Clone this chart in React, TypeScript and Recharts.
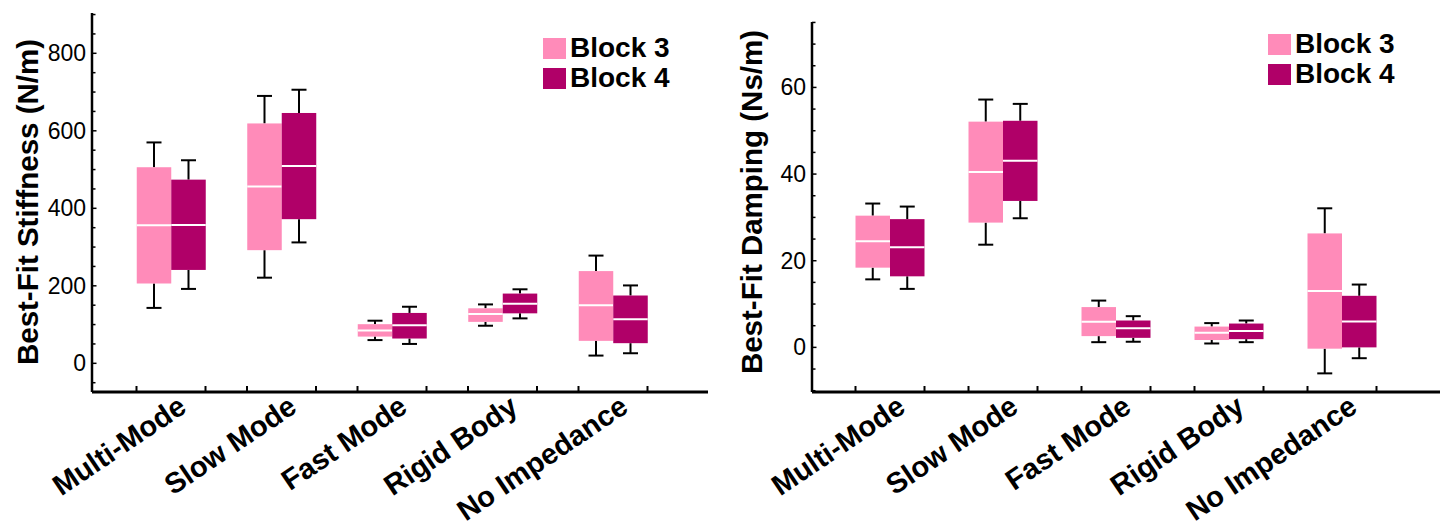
import { ComposedChart, Bar, XAxis, YAxis, Legend } from "recharts";

const categories = ["Multi-Mode", "Slow Mode", "Fast Mode", "Rigid Body", "No Impedance"];

// best-fit stiffness (N/m), five-number summaries per mode
const stiffB3Min = [143, 221, 60, 97, 20];
const stiffB3Q1 = [206, 292, 69, 107, 58];
const stiffB3Med = [356, 456, 85, 127, 150];
const stiffB3Q3 = [506, 619, 101, 142, 238];
const stiffB3Max = [570, 690, 110, 152, 278];

const stiffB4Min = [192, 312, 50, 116, 26];
const stiffB4Q1 = [241, 372, 64, 129, 52];
const stiffB4Med = [357, 509, 98, 154, 114];
const stiffB4Q3 = [474, 646, 130, 180, 175];
const stiffB4Max = [524, 706, 146, 191, 201];

// best-fit damping (Ns/m)
const dampB3Min = [15.7, 23.7, 1.2, 0.9, -6.0];
const dampB3Q1 = [18.4, 28.8, 2.6, 1.7, -0.3];
const dampB3Med = [24.5, 40.5, 5.9, 3.4, 13.0];
const dampB3Q3 = [30.4, 52.1, 9.3, 4.8, 26.3];
const dampB3Max = [33.2, 57.2, 10.8, 5.6, 32.1];

const dampB4Min = [13.5, 29.8, 1.3, 1.2, -2.5];
const dampB4Q1 = [16.4, 33.8, 2.2, 1.9, 0];
const dampB4Med = [23.1, 43.1, 4.4, 3.8, 6.0];
const dampB4Q3 = [29.6, 52.3, 6.2, 5.5, 11.9];
const dampB4Max = [32.5, 56.2, 7.2, 6.2, 14.5];

const stiffMajor = [0, 200, 400, 600, 800];
const stiffMinor = [-50, 50, 100, 150, 250, 300, 350, 450, 500, 550, 650, 700, 750, 850, 900];
const dampMajor = [0, 20, 40, 60];
const dampMinor = [-10, -5, 5, 10, 15, 25, 30, 35, 45, 50, 55, 65, 70, 75];

const PINK = "#ff8bb9";
const MAGENTA = "#b00068";
const FONT = "'Liberation Sans', Arial, Helvetica, sans-serif";
const BOX_W = 34.5;

type Stats = { min: number; q1: number; med: number; q3: number; max: number };

const pick = (min: number[], q1: number[], med: number[], q3: number[], max: number[], i: number): Stats => ({
  min: min[i],
  q1: q1[i],
  med: med[i],
  q3: q3[i],
  max: max[i],
});

const stiffData = categories.map((name, i) => ({
  name,
  b3: pick(stiffB3Min, stiffB3Q1, stiffB3Med, stiffB3Q3, stiffB3Max, i),
  b4: pick(stiffB4Min, stiffB4Q1, stiffB4Med, stiffB4Q3, stiffB4Max, i),
}));

const dampData = categories.map((name, i) => ({
  name,
  b3: pick(dampB3Min, dampB3Q1, dampB3Med, dampB3Q3, dampB3Max, i),
  b4: pick(dampB4Min, dampB4Q1, dampB4Med, dampB4Q3, dampB4Max, i),
}));

// bar spans min..max, so the other stats are placed proportionally inside it
function BoxShape(props: any) {
  const { x, y, width, height, payload, fill, statKey } = props;
  const s: Stats = payload[statKey];
  const top = Math.min(y, y + height);
  const h = Math.abs(height);
  const py = (v: number) => top + (h * (s.max - v)) / (s.max - s.min);
  const cx = x + width / 2;
  const cap = 7.5;
  return (
    <g>
      <line x1={cx} x2={cx} y1={py(s.max)} y2={py(s.q3)} stroke="#000" strokeWidth={2} />
      <line x1={cx} x2={cx} y1={py(s.q1)} y2={py(s.min)} stroke="#000" strokeWidth={2} />
      <line x1={cx - cap} x2={cx + cap} y1={py(s.max)} y2={py(s.max)} stroke="#000" strokeWidth={2} />
      <line x1={cx - cap} x2={cx + cap} y1={py(s.min)} y2={py(s.min)} stroke="#000" strokeWidth={2} />
      <rect x={x} y={py(s.q3)} width={width} height={py(s.q1) - py(s.q3)} fill={fill} />
      <line x1={x} x2={x + width} y1={py(s.med)} y2={py(s.med)} stroke="#fff" strokeWidth={2} />
    </g>
  );
}

function YTick(props: any) {
  const { x, y, payload, majors } = props;
  const major = majors.includes(payload.value);
  return (
    <g>
      <line x1={x} x2={x + (major ? 4.5 : 3.5)} y1={y} y2={y} stroke="#000" strokeWidth={1.5} />
      {major && (
        <text x={x - 6} y={y} textAnchor="end" dominantBaseline="central" fontSize={23} fontFamily={FONT} fill="#000">
          {payload.value}
        </text>
      )}
    </g>
  );
}

function XTick(props: any) {
  const { x, y, payload } = props;
  return (
    <g>
      <line x1={x - BOX_W} x2={x - BOX_W} y1={y} y2={y - 6} stroke="#000" strokeWidth={2} />
      <line x1={x + BOX_W} x2={x + BOX_W} y1={y} y2={y - 6} stroke="#000" strokeWidth={2} />
      <text
        transform={`translate(${x + 17},${y + 19}) rotate(-34)`}
        textAnchor="end"
        fontSize={29}
        fontWeight="bold"
        fontFamily={FONT}
        fill="#000"
      >
        {payload.value}
      </text>
    </g>
  );
}

function LegendBox(props: any) {
  return (
    <div style={{ fontFamily: FONT, fontWeight: "bold", fontSize: 28, lineHeight: "30px" }}>
      {props.payload.map((p: any) => (
        <div key={p.value} style={{ display: "flex", alignItems: "center" }}>
          <span style={{ display: "inline-block", width: 23, height: 21, background: p.color, marginRight: 4 }} />
          {p.value}
        </div>
      ))}
    </div>
  );
}

function BoxChart(props: any) {
  const { data, domain, majors, minors, title, titleX, titleY, top, right, padding, legendPos } = props;
  const ticks = [...majors, ...minors].sort((a: number, b: number) => a - b);
  return (
    <ComposedChart width={720} height={527} data={data} margin={{ top, right, bottom: 105, left: 0 }} barGap={0}>
      <XAxis
        dataKey="name"
        height={30}
        padding={padding}
        interval={0}
        tickSize={0}
        tickMargin={0}
        tickLine={false}
        axisLine={{ stroke: "#000", strokeWidth: 3 }}
        tick={<XTick />}
      />
      <YAxis
        type="number"
        width={92}
        domain={domain}
        ticks={ticks}
        interval={0}
        tickSize={0}
        tickMargin={0}
        tickLine={false}
        axisLine={{ stroke: "#000", strokeWidth: 2.5 }}
        tick={<YTick majors={majors} />}
      />
      <Legend
        layout="vertical"
        align="center"
        verticalAlign="middle"
        content={<LegendBox />}
        wrapperStyle={{ left: legendPos[0], top: legendPos[1], width: "auto" }}
      />
      <Bar
        name="Block 3"
        dataKey={(d: any) => [d.b3.min, d.b3.max]}
        fill={PINK}
        barSize={BOX_W}
        isAnimationActive={false}
        shape={(p: any) => <BoxShape {...p} statKey="b3" />}
      />
      <Bar
        name="Block 4"
        dataKey={(d: any) => [d.b4.min, d.b4.max]}
        fill={MAGENTA}
        barSize={BOX_W}
        isAnimationActive={false}
        shape={(p: any) => <BoxShape {...p} statKey="b4" />}
      />
      <text
        transform={`translate(${titleX},${titleY}) rotate(-90)`}
        textAnchor="middle"
        dominantBaseline="central"
        fontSize={29.5}
        fontWeight="bold"
        fontFamily={FONT}
        fill="#000"
      >
        {title}
      </text>
    </ComposedChart>
  );
}

export default function App() {
  return (
    <div style={{ position: "absolute", left: 0, top: 0, width: 1440, height: 527, background: "#fff" }}>
      <div style={{ position: "absolute", left: 0, top: 0 }}>
        <BoxChart
          data={stiffData}
          domain={[-74, 904]}
          majors={stiffMajor}
          minors={stiffMinor}
          title="Best-Fit Stiffness (N/m)"
          titleX={27}
          titleY={202}
          top={13}
          right={12}
          padding={{ left: 23.75, right: 39.75 }}
          legendPos={[543, 33]}
        />
      </div>
      <div style={{ position: "absolute", left: 720, top: 0 }}>
        <BoxChart
          data={dampData}
          domain={[-10.3, 75.1]}
          majors={dampMajor}
          minors={dampMinor}
          title="Best-Fit Damping (Ns/m)"
          titleX={31}
          titleY={202}
          top={22}
          right={0}
          padding={{ left: 21.5, right: 41.5 }}
          legendPos={[548, 29]}
        />
      </div>
    </div>
  );
}
